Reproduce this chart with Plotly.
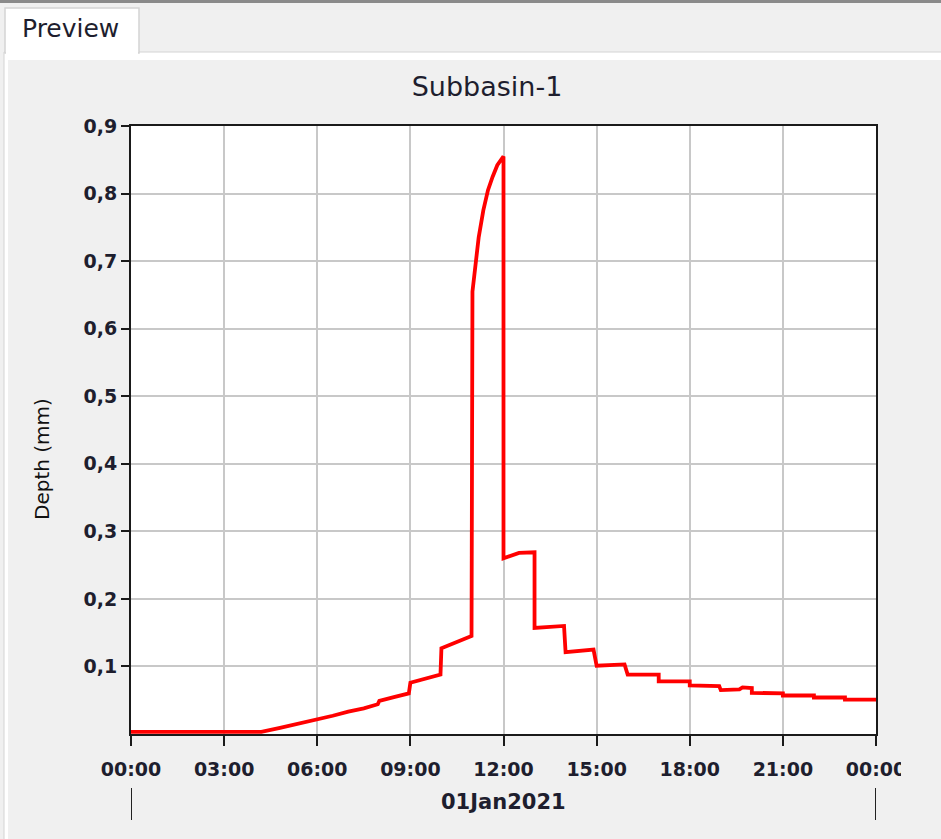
import pandas as pd
import plotly.graph_objects as go

# data (hours after 01Jan2021 00:00, depth in mm)
hours = [0, 4.2, 4.8, 5.4, 6.0, 6.5, 7.0, 7.5, 7.95, 8.0, 8.5, 8.95, 9.0, 9.5, 9.97,
         10.0, 10.5, 10.97, 11.0, 11.1, 11.2, 11.35, 11.5, 11.65, 11.8, 12.0,
         12.0, 12.5, 13.0, 13.0, 13.95, 14.0, 14.9, 15.0, 15.9, 16.0, 17.0, 17.0,
         18.0, 18.0, 18.95, 19.0, 19.6, 19.7, 20.0, 20.0, 21.0, 21.0, 22.0, 22.0,
         23.0, 23.0, 24.0]
depth = [0.003, 0.003, 0.009, 0.015, 0.021, 0.027, 0.033, 0.038, 0.044, 0.049, 0.055, 0.060, 0.076, 0.082, 0.088,
         0.127, 0.137, 0.145, 0.655, 0.700, 0.735, 0.775, 0.805, 0.825, 0.842, 0.855,
         0.260, 0.268, 0.269, 0.157, 0.160, 0.121, 0.125, 0.101, 0.103, 0.088, 0.088, 0.078,
         0.078, 0.072, 0.071, 0.065, 0.066, 0.069, 0.068, 0.061, 0.060, 0.057, 0.057, 0.054,
         0.054, 0.051, 0.051]
y_ticks = [0.1, 0.2, 0.3, 0.4, 0.5, 0.6, 0.7, 0.8, 0.9]
title_text = "Subbasin-1"
y_title = "Depth (mm)"
day_label = "01Jan2021"
tab_label = "Preview"

start = pd.Timestamp("2021-01-01 00:00")
end = pd.Timestamp("2021-01-02 00:00")
times = start + pd.to_timedelta(hours, unit="h")

# pixel layout of the screenshot
W, H = 941, 839
L, R, T, B = 131, 876, 126, 734


def px_x(x):
    return (x - L) / (R - L)


def px_y(y):
    return (B - y) / (B - T)


label_font = dict(family="DejaVu Sans", size=19, color="#1e1e2e", weight="bold")

fig = go.Figure()
fig.add_trace(go.Scatter(x=times, y=depth, mode="lines",
                         line=dict(color="#ff0000", width=3.8), showlegend=False))

shapes = [
    # top window edge
    dict(type="rect", xref="paper", yref="paper", x0=px_x(-5), x1=px_x(W + 5), y0=px_y(-5), y1=px_y(3),
         fillcolor="#8a8a8a", line_width=0, layer="below"),
    # white frame around the panel
    dict(type="rect", xref="paper", yref="paper", x0=px_x(4), x1=px_x(W + 5), y0=px_y(52), y1=px_y(H + 5),
         fillcolor="white", line=dict(color="#d4d4d4", width=1), layer="below"),
    dict(type="rect", xref="paper", yref="paper", x0=px_x(8), x1=px_x(W + 5), y0=px_y(60), y1=px_y(H + 5),
         fillcolor="#f0f0f0", line_width=0, layer="below"),
    # tab
    dict(type="rect", xref="paper", yref="paper", x0=px_x(5), x1=px_x(139), y0=px_y(8), y1=px_y(53),
         fillcolor="white", line=dict(color="#d4d4d4", width=1.5), layer="below"),
    dict(type="rect", xref="paper", yref="paper", x0=px_x(6), x1=px_x(138), y0=px_y(50), y1=px_y(58),
         fillcolor="white", line_width=0, layer="below"),
    # white plot area back on top of the panel
    dict(type="rect", xref="paper", yref="paper", x0=0, x1=1, y0=0, y1=1,
         fillcolor="white", line_width=0, layer="below"),
    # day marker ticks below the axis
    dict(type="line", xref="x", yref="paper", x0=start, x1=start, y0=px_y(788), y1=px_y(820),
         line=dict(color="#222222", width=2)),
    dict(type="line", xref="x", yref="paper", x0=end, x1=end, y0=px_y(788), y1=px_y(820),
         line=dict(color="#222222", width=2)),
    # clip the last tick label like the original component
    dict(type="rect", xref="paper", yref="paper", x0=px_x(901), x1=px_x(W + 5), y0=px_y(750), y1=px_y(785),
         fillcolor="#f0f0f0", line_width=0, layer="above"),
]

annotations = [
    dict(text=tab_label, xref="paper", yref="paper", x=px_x(70), y=px_y(29), showarrow=False,
         xanchor="center", yanchor="middle", font=dict(family="DejaVu Sans", size=25, color="#1e1e2e")),
    dict(text=y_title, xref="paper", yref="paper", x=px_x(42), y=px_y(459), showarrow=False,
         textangle=-90, xanchor="center", yanchor="middle",
         font=dict(family="DejaVu Sans", size=20, color="#111111")),
    dict(text=day_label, xref="paper", yref="paper", x=px_x(503), y=px_y(802), showarrow=False,
         xanchor="center", yanchor="middle", font=dict(label_font, size=21)),
]

fig.update_layout(
    width=W, height=H, autosize=False,
    margin=dict(l=L, r=W - R, t=T, b=H - B, pad=0),
    paper_bgcolor="#f0f0f0", plot_bgcolor="white",
    separators=",.",
    title=dict(text=title_text, x=px_x(487), xref="paper", xanchor="center",
               y=1 - 87 / H, yref="container", yanchor="middle",
               font=dict(family="DejaVu Sans", size=27, color="#1e1e2e")),
    shapes=shapes, annotations=annotations,
)
fig.update_xaxes(range=[start, end], type="date", tickformat="%H:%M",
                 tick0=start, dtick=3 * 3600 * 1000,
                 showgrid=True, gridcolor="#c8c8c8", gridwidth=2,
                 showline=True, linecolor="#1a1a1a", linewidth=2, mirror=True,
                 ticks="outside", ticklen=10, tickwidth=2, tickcolor="#1a1a1a",
                 ticklabelstandoff=7,
                 tickfont=label_font, zeroline=False)
fig.update_yaxes(range=[0, 0.9], tickvals=y_ticks, tickformat=".1f",
                 showgrid=True, gridcolor="#c8c8c8", gridwidth=2,
                 showline=True, linecolor="#1a1a1a", linewidth=2, mirror=True,
                 ticks="outside", ticklen=8, tickwidth=2, tickcolor="#1a1a1a",
                 tickfont=label_font, zeroline=False)

# the page has a default 8px body margin; drop it so the figure sits at 0,0
fig.write_html("out.html", config={"displayModeBar": False},
               post_script="document.body.style.margin='0';document.body.style.overflow='hidden';")
